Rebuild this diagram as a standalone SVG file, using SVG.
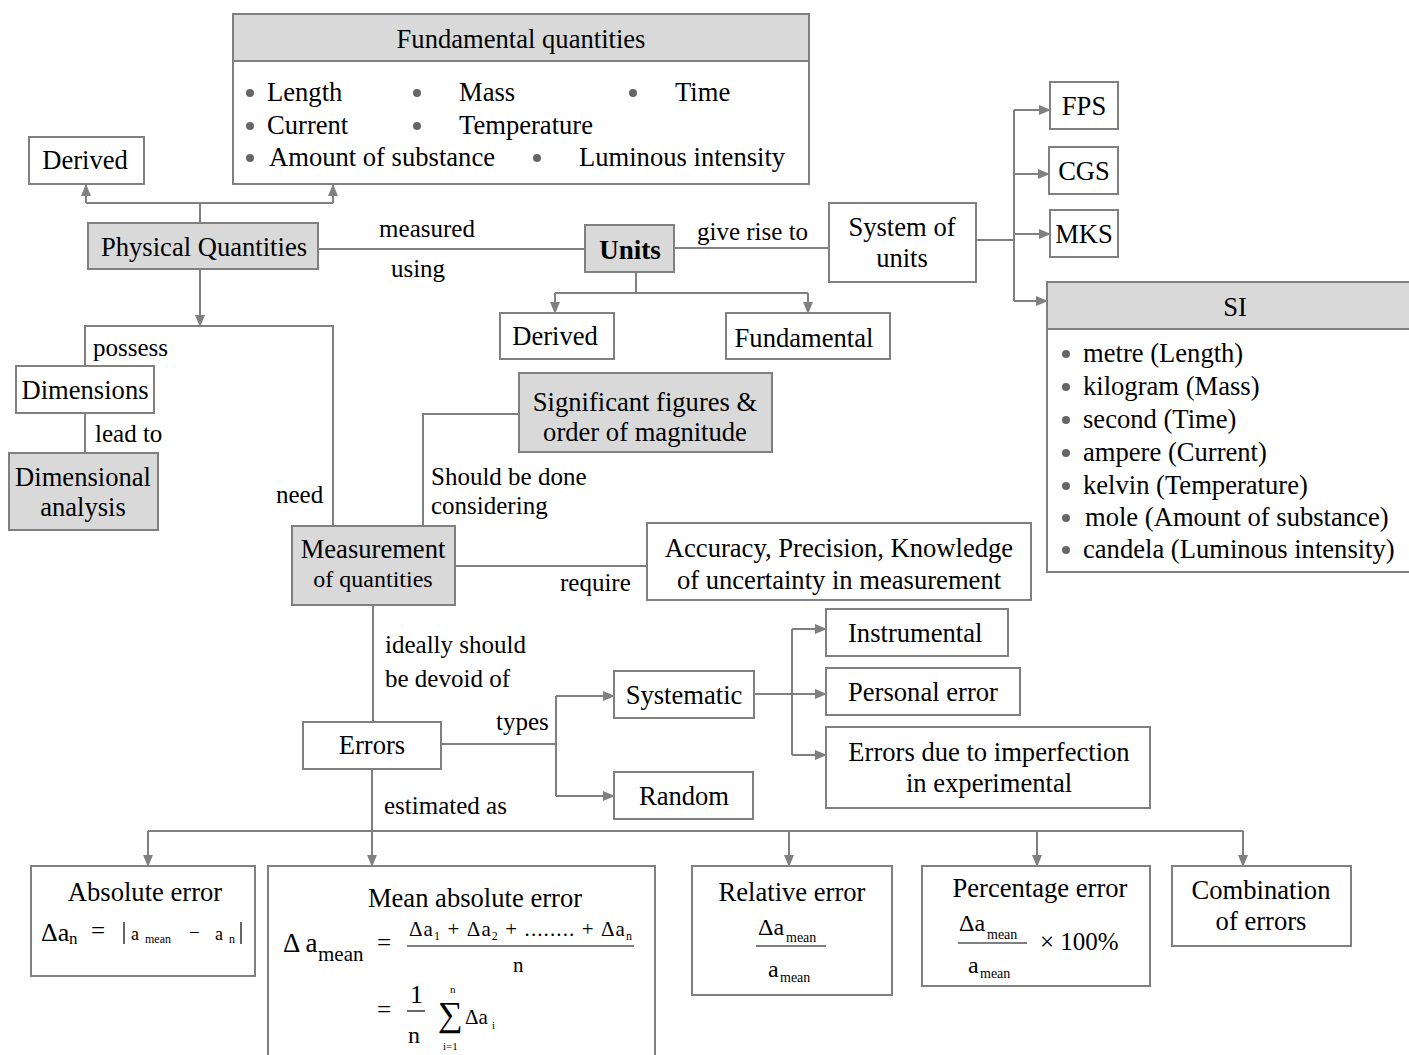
<svg xmlns="http://www.w3.org/2000/svg" width="1409" height="1055" viewBox="0 0 1409 1055">
<style>
.b{fill:#fff;stroke:#808080;stroke-width:2}
.g{fill:#d9d9d9;stroke:#808080;stroke-width:2}
.c{fill:none;stroke:#808080;stroke-width:2}
text{font-family:"Liberation Serif","Times New Roman",serif;font-size:26.6px;fill:#000}
text.l{font-size:25px}
.m{text-anchor:middle}
.s{font-size:12px}
.f{font-size:21px}
.d{fill:#666}
</style>
<defs>
<marker id="ar" markerUnits="userSpaceOnUse" markerWidth="12" markerHeight="12" viewBox="0 0 12 12" refX="11" refY="6" orient="auto">
<path d="M0,1 L12,6 L0,11 Z" fill="#808080"/>
</marker>
</defs>
<rect width="1409" height="1055" fill="#fff"/>

<g id="connectors">
<path class="c" d="M200,223 V203 M86,203 H333"/>
<path class="c" d="M86,203 V185" marker-end="url(#ar)"/>
<path class="c" d="M333,203 V185" marker-end="url(#ar)"/>
<path class="c" d="M318,249 H585"/>
<path class="c" d="M674,248 H829"/>
<path class="c" d="M636,272 V293 M555,293 H808"/>
<path class="c" d="M555,293 V313" marker-end="url(#ar)"/>
<path class="c" d="M808,293 V313" marker-end="url(#ar)"/>
<path class="c" d="M976,240 H1014 M1014,110 V301"/>
<path class="c" d="M1014,110 H1050" marker-end="url(#ar)"/>
<path class="c" d="M1014,174 H1049" marker-end="url(#ar)"/>
<path class="c" d="M1014,234 H1050" marker-end="url(#ar)"/>
<path class="c" d="M1014,301 H1047" marker-end="url(#ar)"/>
<path class="c" d="M200,269 V326" marker-end="url(#ar)"/>
<path class="c" d="M85,366 V326 H333 V526"/>
<path class="c" d="M85,413 V453"/>
<path class="c" d="M423,526 V414 H519"/>
<path class="c" d="M455,566 H647"/>
<path class="c" d="M373,605 V722"/>
<path class="c" d="M441,744 H556 M556,696 V796"/>
<path class="c" d="M556,696 H614" marker-end="url(#ar)"/>
<path class="c" d="M556,796 H614" marker-end="url(#ar)"/>
<path class="c" d="M754,694 H826" marker-end="url(#ar)"/>
<path class="c" d="M792,629 V755"/>
<path class="c" d="M792,629 H826" marker-end="url(#ar)"/>
<path class="c" d="M792,755 H826" marker-end="url(#ar)"/>
<path class="c" d="M372,769 V831 M148,831 H1243"/>
<path class="c" d="M148,831 V866" marker-end="url(#ar)"/>
<path class="c" d="M372,831 V866" marker-end="url(#ar)"/>
<path class="c" d="M789,831 V866" marker-end="url(#ar)"/>
<path class="c" d="M1037,831 V866" marker-end="url(#ar)"/>
<path class="c" d="M1243,831 V866" marker-end="url(#ar)"/>
</g>

<g id="labels">
<text class="l m" x="427" y="237">measured</text>
<text class="l m" x="418" y="277">using</text>
<text class="l" x="697" y="240">give rise to</text>
<text class="l" x="93" y="356">possess</text>
<text class="l" x="95" y="442">lead to</text>
<text class="l" x="276" y="503">need</text>
<text class="l" x="431" y="485">Should be done</text>
<text class="l" x="431" y="514">considering</text>
<text class="l" x="560" y="591">require</text>
<text class="l" x="385" y="653">ideally should</text>
<text class="l" x="385" y="687">be devoid of</text>
<text class="l" x="496" y="730">types</text>
<text class="l" x="384" y="814">estimated as</text>
</g>

<g id="fundamental-quantities">
<rect class="b" x="233" y="14" width="576" height="170"/>
<rect class="g" x="233" y="14" width="576" height="47"/>
<text class="m" x="521" y="48">Fundamental quantities</text>
<circle class="d" cx="250" cy="93" r="4"/><text x="267" y="101">Length</text>
<circle class="d" cx="417" cy="93" r="4"/><text x="459" y="101">Mass</text>
<circle class="d" cx="633" cy="93" r="4"/><text x="675" y="101">Time</text>
<circle class="d" cx="250" cy="126" r="4"/><text x="267" y="134">Current</text>
<circle class="d" cx="417" cy="126" r="4"/><text x="459" y="134">Temperature</text>
<circle class="d" cx="250" cy="158" r="4"/><text x="269" y="166">Amount of substance</text>
<circle class="d" cx="537" cy="158" r="4"/><text x="579" y="166">Luminous intensity</text>
</g>

<g id="derived-quantities">
<rect class="b" x="29" y="137" width="115" height="47"/>
<text class="m" x="85" y="169">Derived</text>
</g>

<g id="physical-quantities">
<rect class="g" x="88" y="223" width="230" height="46"/>
<text class="m" x="204" y="256">Physical Quantities</text>
</g>

<g id="units">
<rect class="g" x="585" y="225" width="89" height="47"/>
<text class="m" x="630" y="259" style="font-weight:bold;font-size:27px">Units</text>
</g>

<g id="system-of-units">
<rect class="b" x="829" y="203" width="147" height="79"/>
<text class="m" x="902" y="236">System of</text>
<text class="m" x="902" y="267">units</text>
</g>

<g id="derived-units">
<rect class="b" x="500" y="313" width="114" height="46"/>
<text class="m" x="555" y="345">Derived</text>
</g>

<g id="fundamental-units">
<rect class="b" x="726" y="313" width="164" height="46"/>
<text class="m" x="804" y="347">Fundamental</text>
</g>

<g id="fps">
<rect class="b" x="1050" y="82" width="68" height="47"/>
<text class="m" x="1084" y="115">FPS</text>
</g>
<g id="cgs">
<rect class="b" x="1049" y="147" width="69" height="47"/>
<text class="m" x="1084" y="180">CGS</text>
</g>
<g id="mks">
<rect class="b" x="1050" y="210" width="68" height="47"/>
<text class="m" x="1084" y="243">MKS</text>
</g>

<g id="si">
<rect class="b" x="1047" y="282" width="370" height="290"/>
<rect class="g" x="1047" y="282" width="370" height="47"/>
<text class="m" x="1235" y="316">SI</text>
<circle class="d" cx="1066" cy="354" r="4"/><text x="1083" y="362">metre (Length)</text>
<circle class="d" cx="1066" cy="387" r="4"/><text x="1083" y="395">kilogram (Mass)</text>
<circle class="d" cx="1066" cy="420" r="4"/><text x="1083" y="428">second (Time)</text>
<circle class="d" cx="1066" cy="453" r="4"/><text x="1083" y="461">ampere (Current)</text>
<circle class="d" cx="1066" cy="486" r="4"/><text x="1083" y="494">kelvin (Temperature)</text>
<circle class="d" cx="1066" cy="518" r="4"/><text x="1085" y="526">mole (Amount of substance)</text>
<circle class="d" cx="1066" cy="550" r="4"/><text x="1083" y="558">candela (Luminous intensity)</text>
</g>

<g id="dimensions">
<rect class="b" x="16" y="366" width="138" height="47"/>
<text class="m" x="85" y="399">Dimensions</text>
</g>

<g id="dimensional-analysis">
<rect class="g" x="9" y="453" width="149" height="77"/>
<text class="m" x="83" y="486">Dimensional</text>
<text class="m" x="83" y="516">analysis</text>
</g>

<g id="significant-figures">
<rect class="g" x="519" y="373" width="253" height="79"/>
<text class="m" x="645" y="411">Significant figures &amp;</text>
<text class="m" x="645" y="441">order of magnitude</text>
</g>

<g id="measurement">
<rect class="g" x="292" y="526" width="163" height="79"/>
<text class="m" x="373" y="558">Measurement</text>
<text class="m" x="373" y="587" style="font-size:24px">of quantities</text>
</g>

<g id="accuracy">
<rect class="b" x="647" y="523" width="384" height="77"/>
<text class="m" x="839" y="557">Accuracy, Precision, Knowledge</text>
<text class="m" x="839" y="589">of uncertainty in measurement</text>
</g>

<g id="errors">
<rect class="b" x="303" y="722" width="138" height="47"/>
<text class="m" x="372" y="754">Errors</text>
</g>

<g id="systematic">
<rect class="b" x="614" y="671" width="140" height="47"/>
<text class="m" x="684" y="704">Systematic</text>
</g>

<g id="random">
<rect class="b" x="614" y="772" width="139" height="47"/>
<text class="m" x="684" y="805">Random</text>
</g>

<g id="instrumental">
<rect class="b" x="826" y="609" width="182" height="47"/>
<text x="848" y="642">Instrumental</text>
</g>

<g id="personal-error">
<rect class="b" x="826" y="668" width="194" height="47"/>
<text x="848" y="701">Personal error</text>
</g>

<g id="imperfection-errors">
<rect class="b" x="826" y="727" width="324" height="81"/>
<text class="m" x="989" y="761">Errors due to imperfection</text>
<text class="m" x="989" y="792">in experimental</text>
</g>

<g id="absolute-error">
<rect class="b" x="31" y="866" width="224" height="110"/>
<text class="m" x="145" y="901">Absolute error</text>
<text x="41" y="941" style="font-size:26px">Δa</text>
<text x="69" y="944" style="font-size:17px">n</text>
<text x="91" y="939" style="font-size:25px">=</text>
<path d="M124,922 V944 M241,922 V944" stroke="#000" stroke-width="1.2"/>
<text x="131" y="940" style="font-size:18px">a</text>
<text x="145" y="943" class="s">mean</text>
<text x="189" y="939" style="font-size:19px">−</text>
<text x="215" y="940" style="font-size:18px">a</text>
<text x="229" y="943" class="s">n</text>
</g>

<g id="mean-absolute-error">
<rect class="b" x="268" y="866" width="387" height="200"/>
<text class="m" x="475" y="907">Mean absolute error</text>
<text x="283" y="952" style="font-size:27px">Δ a</text>
<text x="318" y="961" class="f">mean</text>
<text x="377" y="951" style="font-size:25px">=</text>
<text x="409" y="936" style="font-size:21px" textLength="223" lengthAdjust="spacing">Δa<tspan dy="4" style="font-size:12px">1</tspan><tspan dy="-4"> + Δa</tspan><tspan dy="4" style="font-size:12px">2</tspan><tspan dy="-4"> + ........ + Δa</tspan><tspan dy="4" style="font-size:12px">n</tspan></text>
<path d="M407,946 H634" stroke="#000" stroke-width="1.2"/>
<text x="513" y="972" class="f">n</text>
<text x="377" y="1018" style="font-size:25px">=</text>
<text x="410" y="1003" style="font-size:26px">1</text>
<path d="M407,1011 H425" stroke="#000" stroke-width="1.2"/>
<text x="408" y="1043" style="font-size:24px">n</text>
<text x="438" y="1026" style="font-size:35px">∑</text>
<text x="450" y="993" style="font-size:11px">n</text>
<text x="443" y="1050" style="font-size:11px">i=1</text>
<text x="465" y="1024" class="f">Δa</text>
<text x="492" y="1029" style="font-size:11px">i</text>
</g>

<g id="relative-error">
<rect class="b" x="692" y="866" width="200" height="129"/>
<text class="m" x="792" y="901">Relative error</text>
<text x="758" y="935" style="font-size:24px">Δa</text>
<text x="786" y="942" style="font-size:14px">mean</text>
<path d="M756,946 H826" stroke="#000" stroke-width="1.2"/>
<text x="768" y="977" style="font-size:24px">a</text>
<text x="780" y="982" style="font-size:14px">mean</text>
</g>

<g id="percentage-error">
<rect class="b" x="922" y="866" width="228" height="120"/>
<text class="m" x="1040" y="897">Percentage error</text>
<text x="959" y="931" style="font-size:24px">Δa</text>
<text x="987" y="939" style="font-size:14px">mean</text>
<path d="M958,943 H1027" stroke="#000" stroke-width="1.2"/>
<text x="968" y="973" style="font-size:24px">a</text>
<text x="980" y="978" style="font-size:14px">mean</text>
<text x="1040" y="950" style="font-size:25px">× 100%</text>
</g>

<g id="combination-of-errors">
<rect class="b" x="1172" y="866" width="179" height="80"/>
<text class="m" x="1261" y="899">Combination</text>
<text class="m" x="1261" y="930">of errors</text>
</g>
</svg>
